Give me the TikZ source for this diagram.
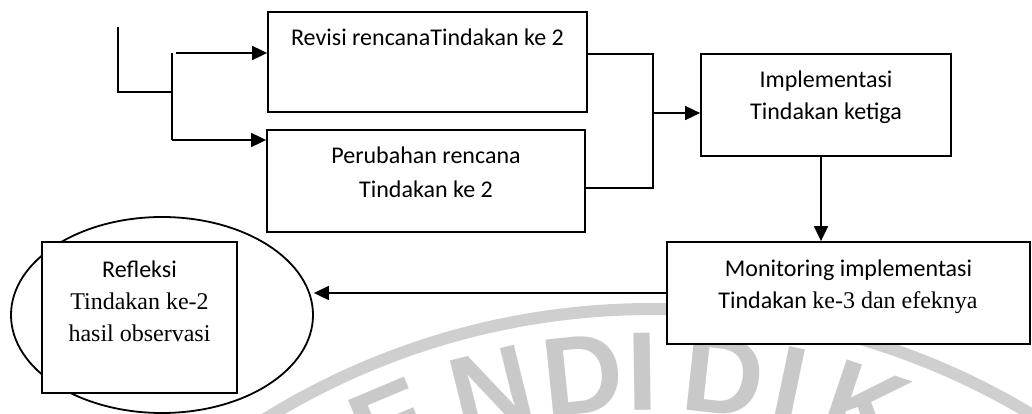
\documentclass[tikz,border=0pt]{standalone}
\usepackage{fontspec}
\setmainfont{Carlito}
\newfontfamily\tnr{Liberation Serif}
\newfontfamily\wmfont{Liberation Sans}
\usetikzlibrary{arrows.meta,shapes.geometric}

\begin{document}
\begin{tikzpicture}[x=1pt,y=-1pt,
  line width=1.8pt,
  box/.style={draw, fill=white, rectangle, inner sep=0pt},
  arr/.style={-{Triangle[length=15pt,width=14pt]}},
  txt/.style={anchor=base, inner sep=0pt, font=\fontsize{24}{28}\selectfont},
  rm/.style={anchor=base, inner sep=0pt, font=\tnr\fontsize{24}{28}\selectfont},
  wmline/.style={draw=black!19, line width=12pt},
  wmletter/.style={text=black!21, inner sep=0pt, anchor=north,
    font=\wmfont\bfseries\fontsize{112}{112}\selectfont},
]
\useasboundingbox (0,0) rectangle (1032,414);
\fill[white] (0,0) rectangle (1032,414);

% faint seal in the background
\begin{scope}
  \clip (0,0) rectangle (1032,414);
  \draw[wmline] (652,1044) circle[radius=735];
  \foreach \ch/\ang [count=\i] in {P/-32, E/-22.8, N/-13.8, D/-5.9, I/-0.8, D/6.1, I/11.8, K/18.6}
    \node[wmletter, rotate={0-(\ang)}] (wm\i) at ({652+712*sin(\ang)},{1044-712*cos(\ang)}) {\ch};
\end{scope}

% boxes
\node[box, minimum width=319pt, minimum height=100pt] (b1) at (427.5,62) {};
\node[txt] (t1) at (427.5,46) {Revisi rencanaTindakan ke 2};

\node[box, minimum width=318pt, minimum height=102pt] (b2) at (426,181) {};
\node[txt] (t2a) at (426,164) {Perubahan rencana};
\node[txt] (t2b) at (426,197) {Tindakan ke 2};

\node[box, minimum width=250pt, minimum height=102pt] (b3) at (826,105) {};
\node[txt] (t3a) at (826,88) {Implementasi};
\node[txt] (t3b) at (826,120) {Tindakan ketiga};

\node[box, minimum width=363pt, minimum height=102pt] (b4) at (848.5,293) {};
\node[txt] (t4a) at (848.5,276) {Monitoring implementasi};
\node[txt] (t4b) at (848,308) {Tindakan {\tnr ke-3 dan efeknya}};

\node[draw, ellipse, minimum width=302pt, minimum height=196pt, inner sep=0pt] (el) at (162,315) {};
\node[box, minimum width=195pt, minimum height=151pt] (b5) at (139.5,317.5) {};
\node[txt] (t5a) at (139.5,277) {Refleksi};
\node[rm] (t5b) at (139.5,309) {Tindakan ke-2};
\node[rm] (t5c) at (139.5,341) {hasil observasi};

% incoming line and the split into two branches
\coordinate (s0) at (118,27);
\coordinate (s1) at (118,92);
\coordinate (s2) at (172,92);
\draw (s0) -- (s1) -- (s2);
\coordinate (j1) at (172,53);
\coordinate (j2) at (172,140);
\draw (j1) -- (j2);
\coordinate (a1) at (176,53);
\draw[arr] (a1) -- (a1 -| b1.west);
\draw[arr] (j2) -- (j2 -| b2.west);

% branches merging into the third action
\coordinate (m1) at (653,54);
\coordinate (m2) at (653,188);
\draw (m1 -| b1.east) -- (m1) -- (m2) -- (m2 -| b2.east);
\coordinate (m3) at (653,113);
\draw[arr] (m3) -- (m3 -| b3.west);

% implementation -> monitoring -> reflection
\coordinate (d) at (821,0);
\draw[arr] (d |- b3.south) -- (d |- b4.north);
\draw[arr] (b4.west) -- (b4.west -| el.east);
\end{tikzpicture}
\end{document}
